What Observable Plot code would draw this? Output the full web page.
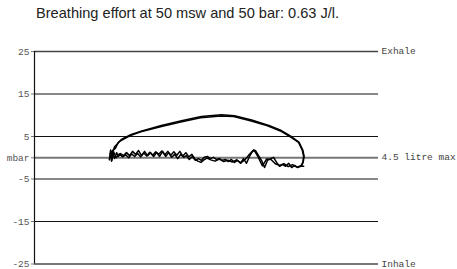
<!DOCTYPE html>
<html><head><meta charset="utf-8">
<script src="https://cdn.jsdelivr.net/npm/d3@7"></script>
<script src="https://cdn.jsdelivr.net/npm/@observablehq/plot@0.6"></script>
<style>
body{margin:0;background:#fff;}
#title{height:30px;font-family:"Liberation Sans",Arial,sans-serif;font-size:14.6px;color:#222;padding-left:36px;box-sizing:border-box;padding-top:5px;white-space:nowrap;}
</style></head><body>
<div id="title">Breathing effort at 50 msw and 50 bar: 0.63 J/l.</div>
<div id="chart"></div>
<script>
const yTicks = [25, 15, 5, 0, -5, -15, -25];
const tickLabels = ["25", "15", "5", "mbar", "-5", "-15", "-25"];
const sideLabels = ["Exhale", "4.5 litre max", "Inhale"];
const sideValues = [25, 0, -25];

// Exhale trace (litres, mbar) – two cycles
const exhaleVol1 = [1.79,1.81,1.88,1.95,2.00,2.23,2.47,2.93,3.40,3.86,4.33,4.63,5.02,5.42,5.72,5.95,6.14,6.23,6.26,6.24,6.19];
const exhaleP1   = [0.1,1.7,2.2,3.6,4.0,5.2,6.1,7.3,8.4,9.4,9.8,9.7,8.7,7.5,6.3,4.9,3.6,1.7,0.3,-1.1,-2.0];
const exhaleVol2 = [1.81,1.86,1.93,2.02,2.25,2.50,2.95,3.42,3.88,4.35,4.65,5.05,5.45,5.74,5.97,6.15,6.24,6.27,6.25,6.21];
const exhaleP2   = [0.8,2.6,3.3,4.3,5.5,6.3,7.6,8.7,9.7,10.1,9.9,8.9,7.6,6.4,5.0,3.7,1.8,0.4,-1.0,-1.9];

// Inhale trace (litres, mbar) – two cycles
const inhaleVol1 = [1.74,1.77,1.79,1.81,1.86,1.91,1.95,2.00,2.07,2.14,2.21,2.28,2.35,2.42,2.49,2.56,2.63,2.70,2.77,2.84,2.91,2.98,3.05,3.12,3.19,3.26,3.33,3.40,3.47,3.53,3.60,3.67,3.74,3.81,3.88,3.95,4.02,4.09,4.16,4.23,4.30,4.37,4.44,4.51,4.58,4.65,4.72,4.79,4.86,4.93,5.00,5.07,5.14,5.21,5.28,5.35,5.42,5.49,5.56,5.63,5.70,5.77,5.84,5.91,5.98,6.05,6.12,6.19,6.26];
const inhaleP1   = [-0.5,1.8,-0.8,1.5,-0.2,1.2,0.3,1.0,0.5,1.2,0.5,1.5,0.8,1.7,0.5,1.5,0.5,1.2,0.3,1.2,0.3,1.5,0.3,1.2,0.1,0.8,-0.2,0.8,0.1,0.5,-0.4,0.3,-0.6,-0.2,-0.6,0.1,0.3,-0.2,0.1,-0.4,-0.2,-0.6,-0.4,-0.9,-0.4,-1.1,-0.6,-1.3,-0.2,-1.3,0.3,1.5,1.7,0.5,-0.6,-2.3,-0.6,-0.2,0.1,-1.1,-2.0,-1.6,-2.0,-1.3,-2.3,-1.8,-2.3,-2.0,-2.0];
const inhaleVol2 = [1.76,1.80,1.84,1.90,1.97,2.05,2.12,2.19,2.26,2.33,2.40,2.47,2.54,2.61,2.68,2.75,2.82,2.89,2.96,3.03,3.10,3.17,3.24,3.31,3.38,3.45,3.52,3.59,3.66,3.73,3.80,3.87,3.94,4.01,4.10,4.20,4.30,4.40,4.50,4.60,4.70,4.80,4.90,5.00,5.10,5.20,5.30,5.40,5.50,5.60,5.70,5.80,5.90,6.00,6.10,6.20];
const inhaleP2   = [1.0,-0.6,1.4,0.0,0.9,0.2,0.7,0.0,0.9,0.3,1.0,0.2,1.1,0.4,1.3,0.6,1.4,0.8,1.6,0.7,1.5,0.6,1.4,0.6,1.5,0.4,1.2,0.2,0.8,-0.3,-0.8,-1.1,-0.5,-0.1,-0.5,-0.8,-0.3,-0.9,-0.6,-1.0,-0.5,-1.2,-0.4,0.8,1.9,0.2,-1.9,-0.3,-0.4,-1.4,-1.8,-1.4,-2.1,-1.6,-2.2,-1.9];

const zipLine = (vs, ps, cycle) => vs.map((v, i) => ({v, p: ps[i], cycle}));
const lines = [
  ...zipLine(exhaleVol1, exhaleP1, "e1"),
  ...zipLine(exhaleVol2, exhaleP2, "e2"),
  ...zipLine(inhaleVol1, inhaleP1, "i1"),
  ...zipLine(inhaleVol2, inhaleP2, "i2")
];

const chart = Plot.plot({
  width: 457,
  height: 239,
  marginLeft: 34,
  marginRight: 79,
  marginTop: 21,
  marginBottom: 5.5,
  x: {domain: [0, 8], axis: null},
  y: {domain: [-25, 25], axis: null},
  style: {fontFamily: "'Liberation Mono', monospace", fontSize: "9.5px", color: "#444", background: "#fff"},
  marks: [
    Plot.ruleY([15, 5, -5, -15], {stroke: "#111", strokeWidth: 1}),
    Plot.ruleY([25], {stroke: "#444", strokeWidth: 1.3}),
    Plot.ruleY([0, -25], {stroke: "#777", strokeWidth: 2}),
    Plot.ruleX([0], {y1: -25, y2: 25, stroke: "#111", strokeWidth: 1.2}),
    Plot.axisY({anchor: "left", ticks: yTicks, tickFormat: (d) => tickLabels[yTicks.indexOf(d)], tickSize: 3, tickPadding: 2, stroke: "#777", fill: "#555", fontSize: 9.5, label: null}),
    Plot.axisY({anchor: "right", ticks: sideValues, tickFormat: (d) => sideLabels[sideValues.indexOf(d)], tickSize: 0, tickPadding: 3, fill: "#444", fontSize: 9.5, label: null, dy: -0.5}),
    Plot.line(lines, {x: "v", y: "p", z: "cycle", stroke: "#000", strokeWidth: 1.5, curve: "linear"})
  ]
});
document.getElementById("chart").appendChild(chart);
</script>
</body></html>
